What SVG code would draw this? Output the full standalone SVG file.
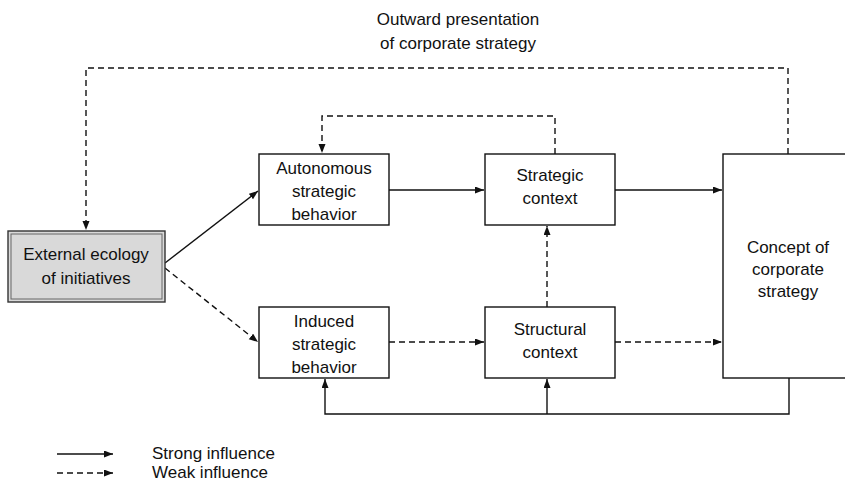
<svg xmlns="http://www.w3.org/2000/svg" width="845" height="486" viewBox="0 0 845 486">
<style>
  text { font-family: "Liberation Sans", Arial, sans-serif; font-size: 17px; fill: #111; text-anchor: middle; }
  .box { fill: #fff; stroke: #111; stroke-width: 1.4; }
  .c { fill: none; stroke: #111; stroke-width: 1.4; }
  .d { stroke-dasharray: 6 4; }
  .legend { text-anchor: start; }
</style>
<defs>
  <marker id="ah" markerUnits="userSpaceOnUse" markerWidth="10" markerHeight="8" refX="9" refY="3.5" orient="auto">
    <path d="M0,0 L9,3.5 L0,7 z" fill="#111"/>
  </marker>
</defs>
<rect width="845" height="486" fill="#fff"/>

<g id="title">
  <text x="458" y="25">Outward presentation</text>
  <text x="458" y="49">of corporate strategy</text>
</g>

<g id="connectors">
  <path class="c d" d="M788,154 V68 H86 V230" marker-end="url(#ah)"/>
  <path class="c d" d="M555,154 V116 H322 V153" marker-end="url(#ah)"/>
  <path class="c" d="M389,190 H484" marker-end="url(#ah)"/>
  <path class="c" d="M615,190 H722" marker-end="url(#ah)"/>
  <path class="c d" d="M389,342 H484" marker-end="url(#ah)"/>
  <path class="c d" d="M615,342 H722" marker-end="url(#ah)"/>
  <path class="c d" d="M547,307 V226" marker-end="url(#ah)"/>
  <path class="c" d="M789,378 V414 H325 V379" marker-end="url(#ah)"/>
  <path class="c" d="M547,414 V379" marker-end="url(#ah)"/>
  <path class="c" d="M165,263 L258,191" marker-end="url(#ah)"/>
  <path class="c d" d="M165,268 L258,342" marker-end="url(#ah)"/>
</g>

<g id="external">
  <rect x="8" y="231" width="157" height="71" fill="#d9d9d9" stroke="#333" stroke-width="1.4"/>
  <rect x="11" y="234" width="151" height="65" fill="none" stroke="#666" stroke-width="1"/>
  <text x="86" y="260">External ecology</text>
  <text x="86" y="284">of initiatives</text>
</g>

<g id="autonomous">
  <rect class="box" x="259" y="154" width="130" height="71"/>
  <text x="324" y="174">Autonomous</text>
  <text x="324" y="197">strategic</text>
  <text x="324" y="220">behavior</text>
</g>

<g id="induced">
  <rect class="box" x="259" y="307" width="130" height="71"/>
  <text x="324" y="327">Induced</text>
  <text x="324" y="350">strategic</text>
  <text x="324" y="373">behavior</text>
</g>

<g id="strategic">
  <rect class="box" x="485" y="154" width="130" height="71"/>
  <text x="550" y="181">Strategic</text>
  <text x="550" y="204">context</text>
</g>

<g id="structural">
  <rect class="box" x="485" y="307" width="130" height="71"/>
  <text x="550" y="335">Structural</text>
  <text x="550" y="358">context</text>
</g>

<g id="concept">
  <rect class="box" x="723" y="154" width="130" height="224"/>
  <text x="788" y="253">Concept of</text>
  <text x="788" y="275">corporate</text>
  <text x="788" y="297">strategy</text>
</g>

<g id="legend">
  <path class="c" d="M57,454 H113" marker-end="url(#ah)"/>
  <path class="c d" d="M57,473 H113" marker-end="url(#ah)"/>
  <text class="legend" x="152" y="459">Strong influence</text>
  <text class="legend" x="152" y="478">Weak influence</text>
</g>
</svg>
